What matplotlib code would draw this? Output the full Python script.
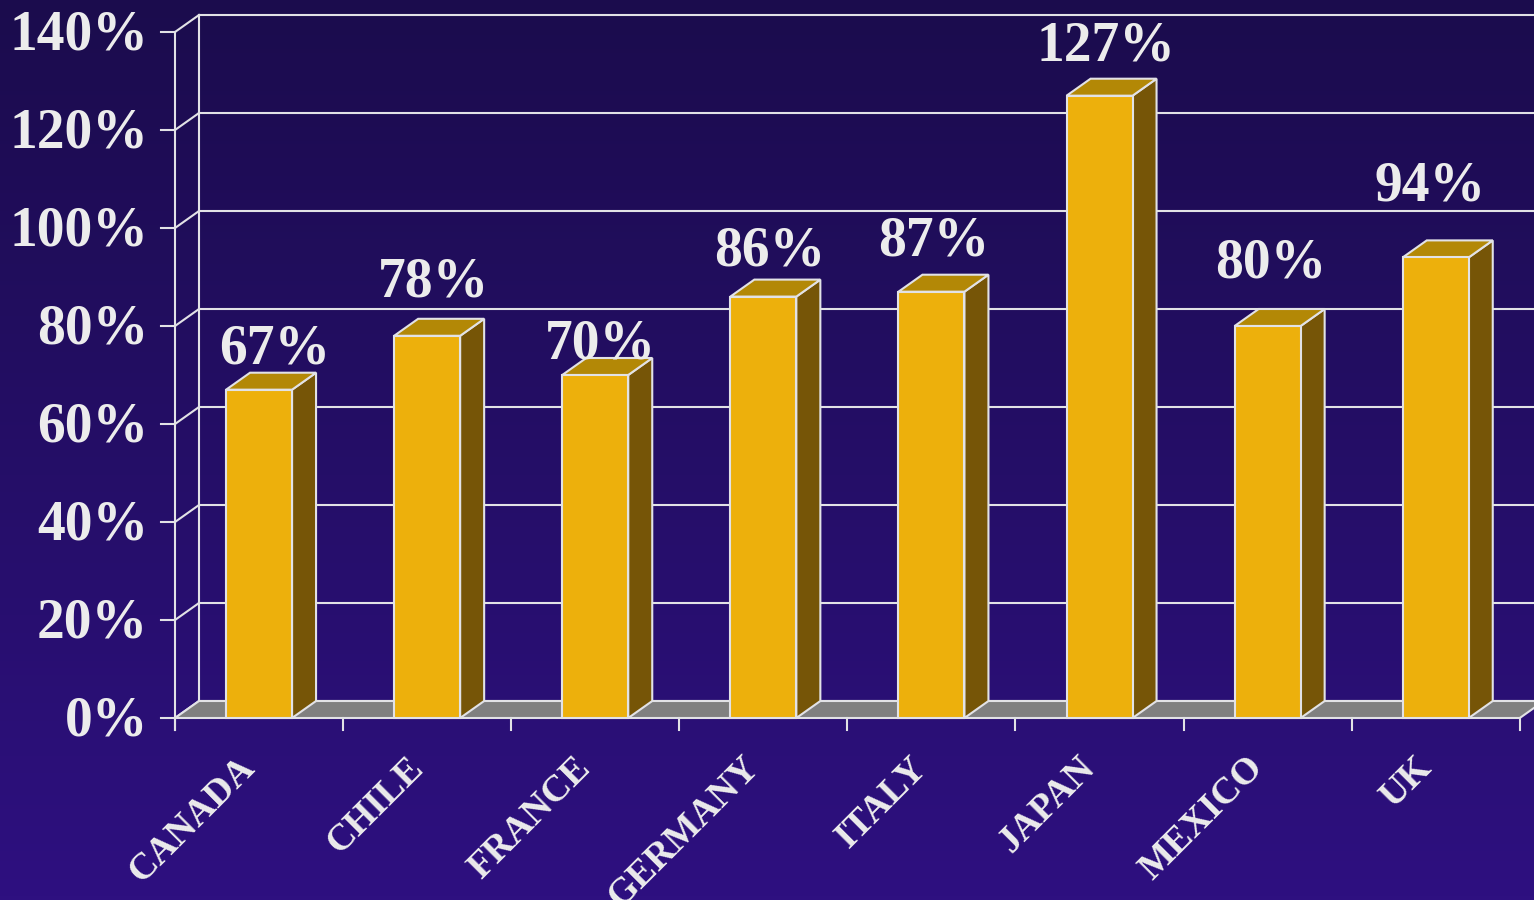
import matplotlib
matplotlib.use("Agg")
import matplotlib.pyplot as plt
import numpy as np
from matplotlib.colors import LinearSegmentedColormap
from matplotlib.patches import Polygon, Rectangle

countries = ["CANADA", "CHILE", "FRANCE", "GERMANY", "ITALY", "JAPAN", "MEXICO", "UK"]
values = [67, 78, 70, 86, 87, 127, 80, 94]
y_ticks = [0, 20, 40, 60, 80, 100, 120, 140]

# hand-placed value labels: lift above the bar top (% units), sideways nudge (px)
label_lift = [8.3, 10.9, 6.2, 9.3, 10.3, 10.1, 12.8, 14.4]
label_nudge = [16, 6, 5, 6, 2, 6, 3, -6]

FIG_W, FIG_H = 1534, 900
PX_PER_CAT = 168.1   # pixels per category slot
PX_PER_PCT = 4.9     # pixels per percentage point
X0_PX, Y0_PX = 175, 718  # front-left corner of the floor

DX = 24 / PX_PER_CAT   # depth offset, x
DY = 17 / PX_PER_PCT   # depth offset, y
BAR_W = 66 / PX_PER_CAT

LINE = "#e2e2e6"
FRONT = "#edb00c"
TOP = "#b38806"
SIDE = "#765507"
FLOOR = "#808080"
TEXT = "#ececec"
FONT = "Liberation Serif"

fig = plt.figure(figsize=(FIG_W / 100, FIG_H / 100), dpi=100)
ax = fig.add_axes([0, 0, 1, 1])
ax.set_axis_off()

xmin = -X0_PX / PX_PER_CAT - 0.5
xmax = (FIG_W - X0_PX) / PX_PER_CAT - 0.5
ymin = (Y0_PX - FIG_H) / PX_PER_PCT
ymax = Y0_PX / PX_PER_PCT
ax.set_xlim(xmin, xmax)
ax.set_ylim(ymin, ymax)

# background gradient, dark at top, brighter violet at bottom
bg = LinearSegmentedColormap.from_list("bg", ["#2e1080", "#1b0c4d"])
grad = np.linspace(0, 1, 256).reshape(-1, 1)
ax.imshow(grad, cmap=bg, extent=[xmin, xmax, ymin, ymax], origin="lower",
          aspect="auto", zorder=0)

n = len(countries)
left, right = -0.5, n - 0.5
lw = 1.5

# back wall gridlines and left side wall
for v in y_ticks:
    ax.plot([left + DX, right + DX + 1], [v + DY, v + DY], color=LINE, lw=lw, zorder=1)
    ax.plot([left, left + DX], [v, v + DY], color=LINE, lw=lw, zorder=1)
    ax.plot([left - 14 / PX_PER_CAT, left], [v, v], color=LINE, lw=lw, zorder=1)
    ax.text(left - 27 / PX_PER_CAT, v - 3 / PX_PER_PCT, f"{v}%", ha="right", va="center",
            fontsize=40, fontweight="bold", family=FONT, color=TEXT, zorder=5)
ax.plot([left + DX, left + DX], [DY, y_ticks[-1] + DY], color=LINE, lw=lw, zorder=1)
ax.plot([left, left], [-12 / PX_PER_PCT, y_ticks[-1]], color=LINE, lw=lw, zorder=1)

# floor
floor = Polygon([(left, 0), (right, 0), (right + DX, DY), (left + DX, DY)],
                closed=True, fc=FLOOR, ec=LINE, lw=lw, zorder=2)
ax.add_patch(floor)
for k in range(n + 1):
    ax.plot([k - 0.5, k - 0.5], [0, -12 / PX_PER_PCT], color=LINE, lw=lw, zorder=2)

# bars
for k, (name, v) in enumerate(zip(countries, values)):
    xl, xr = k - BAR_W / 2, k + BAR_W / 2
    side = Polygon([(xr, 0), (xr + DX, DY), (xr + DX, v + DY), (xr, v)],
                   closed=True, fc=SIDE, ec=LINE, lw=lw, zorder=3)
    top = Polygon([(xl, v), (xr, v), (xr + DX, v + DY), (xl + DX, v + DY)],
                  closed=True, fc=TOP, ec=LINE, lw=lw, zorder=3)
    front = Rectangle((xl, 0), BAR_W, v, fc=FRONT, ec=LINE, lw=lw, zorder=3)
    for p in (side, top, front):
        ax.add_patch(p)

    ax.text(k + label_nudge[k] / PX_PER_CAT, v + label_lift[k], f"{v}%",
            ha="center", va="center",
            fontsize=40, fontweight="bold", family=FONT, color=TEXT, zorder=6)
    ax.text(k - 22 / PX_PER_CAT, -32 / PX_PER_PCT, name, rotation=45,
            rotation_mode="anchor", ha="right", va="top",
            fontsize=27, fontweight="bold", family=FONT, color=TEXT, zorder=6)

fig.savefig("out.png", dpi=100)
